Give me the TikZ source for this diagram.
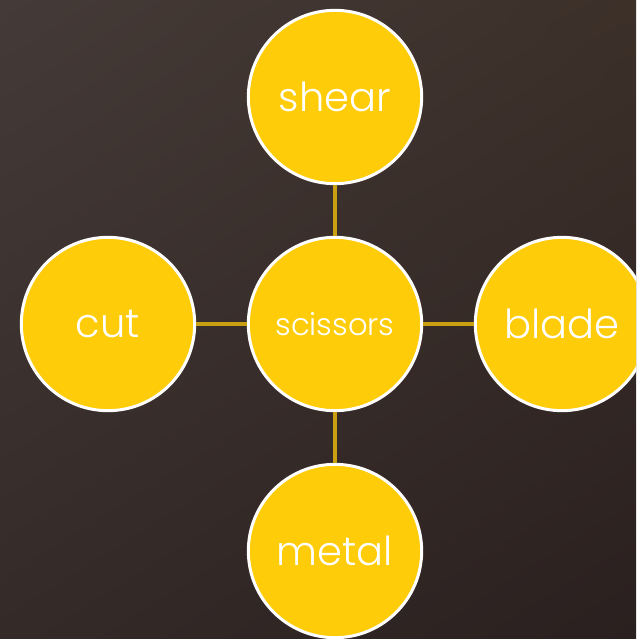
\documentclass[tikz,border=0pt]{standalone}
\usepackage{fontspec}
\setmainfont{Poppins Light}
\usetikzlibrary{positioning,shadings}

\definecolor{bgtl}{HTML}{443A37}
\definecolor{bgtr}{HTML}{3C3029}
\definecolor{bgbl}{HTML}{342A28}
\definecolor{bgbr}{HTML}{2A201F}
\definecolor{sun}{HTML}{FFCC0A}
\definecolor{rod}{HTML}{C9A012}

\tikzset{
  bubble/.style={circle, draw=white, line width=2.25pt, fill=sun,
    minimum size=130pt, inner sep=0pt, text=white, font=\fontsize{30}{30}\selectfont},
  hub/.style={bubble, font=\fontsize{23}{23}\selectfont},
  link/.style={draw=rod, line width=3pt}
}

\begin{document}
\begin{tikzpicture}[x=0.75pt,y=-0.75pt]

\def\gap{227}

%background
\useasboundingbox (0,0) rectangle (636,639);
\clip (0,0) rectangle (636,639);
\shade[upper left=bgtl, upper right=bgtr, lower left=bgbl, lower right=bgbr]
  (0,0) rectangle (636,639);

%nodes
\node[hub] (scissors) at (335,324) {scissors};
\node[bubble] (shear) at (335,324-\gap) {shear};
\node[bubble] (metal) at (335,324+\gap) {metal};
\node[bubble] (cut) at (335-\gap,324) {cut};
\node[bubble] (blade) at (335+\gap,324) {blade};

%links
\draw[link] (scissors) -- (shear);
\draw[link] (scissors) -- (metal);
\draw[link] (scissors) -- (cut);
\draw[link] (scissors) -- (blade);

\end{tikzpicture}
\end{document}
